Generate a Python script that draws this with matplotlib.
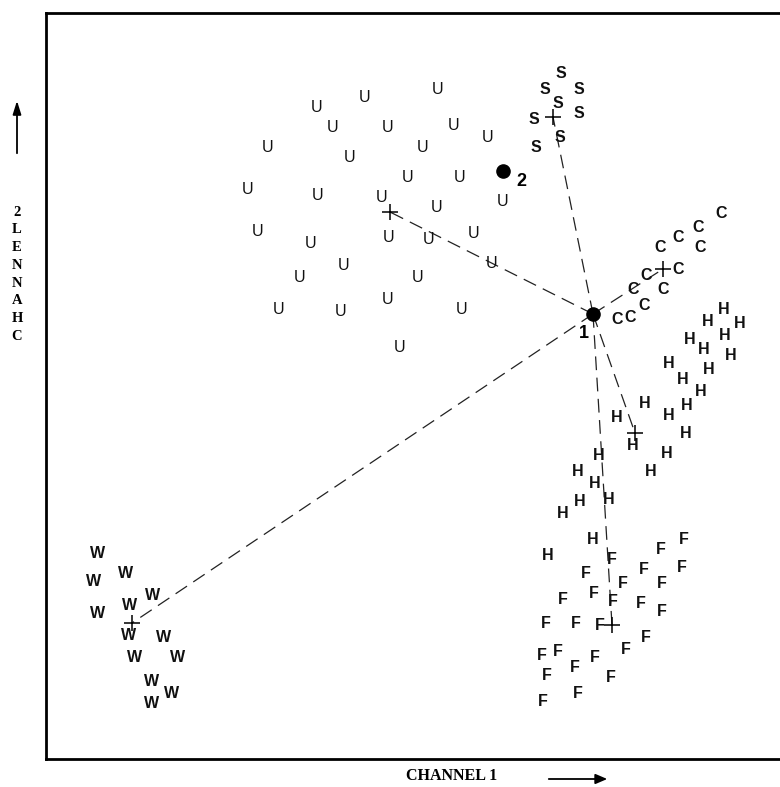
import matplotlib
matplotlib.use("Agg")
import matplotlib.pyplot as plt

# Two-channel scatter of class samples; letters mark each sample's class.
u_x = [438, 365, 317, 333, 388, 454, 488, 268, 350, 423, 408, 460, 248, 318, 382, 437,
       503, 258, 311, 389, 429, 474, 344, 300, 418, 492, 279, 341, 388, 462, 400]
u_y = [89, 98, 108, 128, 128, 126, 137, 147, 157, 147, 177, 177, 189, 195, 197, 208,
       202, 232, 243, 237, 240, 233, 266, 277, 278, 263, 310, 312, 300, 310, 347]

s_x = [561, 545, 579, 558, 579, 534, 560, 536]
s_y = [74, 89, 90, 103, 113, 119, 137, 147]

c_x = [721, 698, 700, 678, 660, 678, 646, 663, 633, 644, 617, 630]
c_y = [214, 228, 247, 237, 248, 269, 276, 289, 290, 306, 319, 318]

h_x = [724, 708, 740, 690, 725, 704, 731, 669, 709, 683, 701, 645, 687, 617, 669, 686,
       633, 667, 651, 599, 578, 595, 609, 580, 563, 593, 548]
h_y = [309, 322, 323, 340, 336, 350, 355, 364, 370, 380, 392, 403, 406, 418, 416, 433,
       445, 453, 472, 455, 472, 483, 499, 502, 514, 540, 555]

f_x = [684, 661, 612, 644, 682, 586, 623, 662, 594, 563, 613, 641, 662, 546, 576, 600,
       646, 626, 542, 558, 595, 575, 547, 611, 578, 543]
f_y = [539, 549, 559, 569, 568, 573, 583, 583, 594, 599, 602, 603, 612, 623, 624, 626,
       638, 650, 656, 652, 657, 667, 675, 677, 693, 702]

w_x = [98, 126, 94, 153, 130, 98, 129, 164, 135, 178, 152, 172, 152]
w_y = [553, 573, 582, 595, 606, 613, 635, 637, 657, 657, 682, 693, 703]

# class centres (+) and the two reference points
centre_labels = ["U", "S", "C", "H", "F", "W"]
centre_x = [390, 553, 663, 635, 612, 132]
centre_y = [212, 117, 269, 433, 625, 623]
ref_labels = ["1", "2"]
ref_x = [593, 503]
ref_y = [314, 171]

H_IMG = 787


def flip(vals):
    return [H_IMG - v for v in vals]


W_PX, H_PX = 780, 787
fig = plt.figure(figsize=(W_PX / 100, H_PX / 100), dpi=100)
ax = fig.add_axes([46 / W_PX, (H_PX - 759) / H_PX, 750 / W_PX, (759 - 13) / H_PX])
ax.set_xlim(46, 796)
ax.set_ylim(H_IMG - 759, H_IMG - 13)
ax.set_xticks([])
ax.set_yticks([])
for side in ("left", "top", "bottom"):
    ax.spines[side].set_linewidth(2.0)
ax.spines["right"].set_visible(False)

# dashed links from point 1 to every class centre
for cx, cy in zip(centre_x, centre_y):
    ax.plot([ref_x[0], cx], flip([ref_y[0], cy]), color="#222222", lw=0.9,
            dashes=(11, 6), zorder=1)

groups = [
    ("U", u_x, u_y, "normal"),
    ("S", s_x, s_y, "bold"),
    ("C", c_x, c_y, "bold"),
    ("H", h_x, h_y, "bold"),
    ("F", f_x, f_y, "bold"),
    ("W", w_x, w_y, "heavy"),
]
for letter, xs, ys, weight in groups:
    for x, y in zip(xs, flip(ys)):
        ax.text(x, y, letter, ha="center", va="center", fontsize=11.5,
                fontweight=weight, family="Liberation Sans", color="#111111",
                zorder=3)

ax.scatter(centre_x, flip(centre_y), marker="+", s=120, color="black",
           linewidths=1.1, zorder=4)

ax.scatter(ref_x, flip(ref_y), s=90, color="black", zorder=5)
ax.text(ref_x[0] - 9, H_IMG - ref_y[0] - 19, ref_labels[0], ha="center", va="center",
        fontsize=13, fontweight="bold", family="Liberation Sans")
ax.text(ref_x[1] + 18, H_IMG - ref_y[1] - 11, ref_labels[1], ha="center", va="center",
        fontsize=13, fontweight="bold", family="Liberation Sans")


def fpos(px, py):
    return px / W_PX, 1 - py / H_PX


# axis titles with direction arrows
fig.text(*fpos(452, 776), "CHANNEL 1", ha="center", va="center", fontsize=11.5,
         fontweight="bold", family="Liberation Serif")
fig.patches.append(matplotlib.patches.FancyArrowPatch(
    fpos(546, 779), fpos(610, 779), transform=fig.transFigure,
    arrowstyle="-|>,head_length=7,head_width=3", color="black", lw=1.3))

for i, ch in enumerate("2LENNAHC"):
    fig.text(*fpos(17, 212 + i * 17.8), ch, ha="center", va="center", fontsize=10.5,
             fontweight="bold", family="Liberation Serif")
fig.patches.append(matplotlib.patches.FancyArrowPatch(
    fpos(17, 156), fpos(17, 98), transform=fig.transFigure,
    arrowstyle="-|>,head_length=8,head_width=2.5", color="black", lw=1.3))

fig.savefig("out.png", dpi=100)
